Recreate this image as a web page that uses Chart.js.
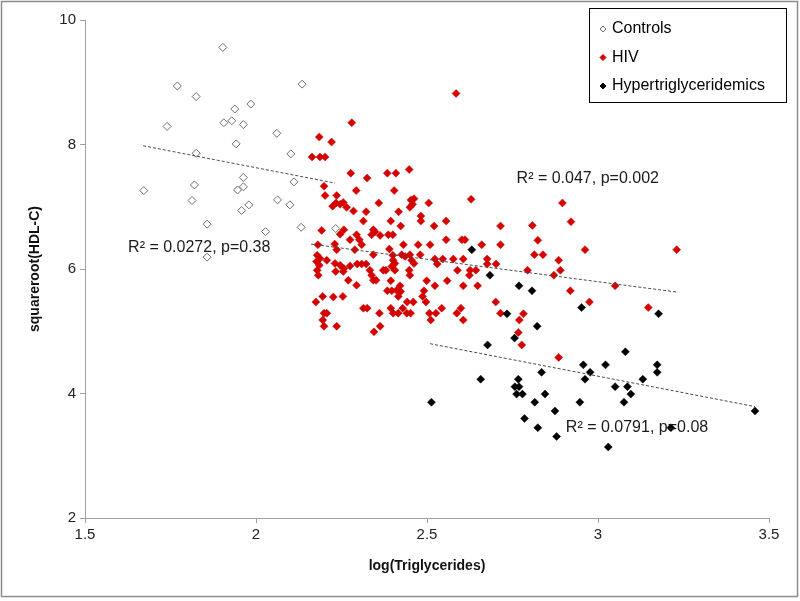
<!DOCTYPE html>
<html>
<head>
<meta charset="utf-8">
<script src="https://cdn.jsdelivr.net/npm/chart.js@4.4.1/dist/chart.umd.min.js"></script>
<style>
  html, body { margin: 0; padding: 0; background: #fff; }
  #wrap { width: 800px; height: 601px; }
</style>
</head>
<body>
<div id="wrap"><canvas id="chart" width="800" height="601"></canvas></div>
<script>

// data

const controlsX = [1.903, 1.770, 2.135, 1.825, 1.938, 1.985, 1.740, 1.906, 1.929, 1.963,
   2.061, 1.942, 1.825, 2.102, 1.963, 2.111, 1.820, 1.672, 1.946, 1.963,
   1.813, 2.063, 2.099, 1.958, 1.979, 1.857, 2.028, 2.132, 2.233, 1.857]
const controlsY = [9.56, 8.94, 8.97, 8.77, 8.57, 8.65, 8.29, 8.35, 8.38, 8.32,
   8.18, 8.01, 7.86, 7.85, 7.47, 7.40, 7.35, 7.26, 7.27, 7.32,
   7.10, 7.11, 7.03, 6.94, 7.03, 6.72, 6.60, 6.67, 6.65, 6.19]

const hivX = [2.280, 2.185, 2.221, 2.164, 2.187, 2.202, 2.277, 2.199, 2.293, 2.202,
   2.236, 2.224, 2.234, 2.246, 2.255, 2.265, 2.285, 2.192, 2.257, 2.246,
   2.275, 2.294, 2.181, 2.230, 2.236, 2.289, 2.179, 2.187, 2.177, 2.185,
   2.179, 2.182, 2.207, 2.231, 2.246, 2.257, 2.275, 2.233, 2.255, 2.270,
   2.294, 2.175, 2.195, 2.226, 2.254, 2.199, 2.207, 2.195, 2.199, 2.236,
   2.384, 2.409, 2.448, 2.325, 2.404, 2.453, 2.462, 2.450, 2.458, 2.359,
   2.505, 2.629, 2.322, 2.417, 2.482, 2.482, 2.314, 2.394, 2.556, 2.423,
   2.521, 2.715, 2.343, 2.338, 2.348, 2.302, 2.309, 2.363, 2.387, 2.400,
   2.431, 2.474, 2.509, 2.556, 2.602, 2.611, 2.660, 2.715, 2.390, 2.343,
   2.400, 2.401, 2.406, 2.397, 2.426, 2.436, 2.450, 2.455, 2.462, 2.480,
   2.523, 2.530, 2.546, 2.577, 2.606, 2.676, 2.676, 2.702, 2.296, 2.309,
   2.322, 2.372, 2.380, 2.406, 2.333, 2.338, 2.343, 2.351, 2.448, 2.450,
   2.589, 2.626, 2.643, 2.624, 2.394, 2.499, 2.559, 2.421, 2.411, 2.423,
   2.523, 2.606, 2.648, 2.384, 2.397, 2.491, 2.487, 2.497, 2.416, 2.314,
   2.325, 2.442, 2.460, 2.394, 2.401, 2.416, 2.429, 2.441, 2.452, 2.507,
   2.511, 2.526, 2.543, 2.587, 2.599, 2.606, 2.701, 2.715, 2.361, 2.363,
   2.345, 2.896, 2.921, 2.808, 2.824, 2.962, 3.230, 2.814, 2.839, 2.885,
   2.794, 2.890, 2.871, 3.050, 2.919, 2.975, 3.147, 2.782, 2.770, 2.767,
   2.777, 2.885, 2.585]
const hivY = [8.35, 8.12, 8.04, 7.80, 7.80, 7.80, 7.54, 7.33, 7.26, 7.18,
   7.18, 7.01, 7.06, 7.04, 7.07, 6.99, 6.93, 6.62, 6.63, 6.56,
   6.47, 6.55, 6.39, 6.40, 6.31, 6.31, 6.22, 6.17, 6.12, 6.06,
   5.98, 5.90, 6.14, 6.09, 6.06, 6.01, 6.05, 5.96, 5.96, 5.82,
   5.74, 5.47, 5.56, 5.55, 5.56, 5.29, 5.29, 5.18, 5.08, 5.08,
   7.54, 7.54, 7.60, 7.46, 7.26, 7.11, 7.13, 6.99, 7.04, 7.06,
   7.06, 7.12, 6.92, 6.92, 6.85, 6.77, 6.77, 6.77, 6.77, 6.69,
   6.69, 6.69, 6.63, 6.55, 6.60, 6.47, 6.39, 6.54, 6.55, 6.55,
   6.39, 6.39, 6.39, 6.47, 6.47, 6.47, 6.39, 6.39, 6.32, 6.23,
   6.22, 6.14, 6.09, 6.04, 6.23, 6.20, 6.23, 6.14, 6.09, 6.23,
   6.16, 6.08, 6.16, 6.16, 6.16, 6.16, 6.08, 6.08, 6.08, 6.08,
   6.08, 5.98, 5.98, 5.98, 5.98, 5.90, 5.82, 5.82, 5.98, 5.90,
   5.98, 5.98, 5.98, 5.90, 5.81, 5.81, 5.81, 5.73, 5.66, 5.64,
   5.73, 5.73, 5.73, 5.65, 5.65, 5.65, 5.56, 5.47, 5.56, 5.37,
   5.37, 5.47, 5.47, 5.37, 5.29, 5.29, 5.37, 5.29, 5.29, 5.29,
   5.18, 5.29, 5.37, 5.29, 5.37, 5.18, 5.47, 5.29, 5.29, 5.08,
   4.99, 7.06, 6.76, 6.70, 6.46, 6.31, 6.31, 6.23, 6.23, 6.14,
   5.98, 5.98, 5.90, 5.73, 5.65, 5.47, 5.38, 5.28, 5.18, 4.98,
   4.78, 4.58, 8.82]

const hyperX = [2.631, 2.684, 2.769, 2.807, 2.734, 2.952, 3.177, 2.822, 2.756, 2.677,
   3.080, 2.957, 3.022, 3.173, 3.173, 2.835, 2.977, 2.962, 2.657, 2.767,
   2.757, 2.769, 2.762, 2.779, 2.845, 3.050, 3.086, 3.096, 3.131, 2.513,
   2.815, 2.947, 3.076, 2.874, 3.459, 2.785, 2.824, 2.879, 3.030, 3.213]
const hyperY = [6.31, 5.90, 5.73, 5.65, 5.28, 5.38, 5.28, 5.08, 4.89, 4.78,
   4.67, 4.46, 4.46, 4.46, 4.34, 4.34, 4.34, 4.23, 4.23, 4.23,
   4.11, 4.11, 3.99, 3.99, 3.99, 4.11, 4.11, 3.99, 4.23, 3.86,
   3.86, 3.86, 3.86, 3.72, 3.72, 3.60, 3.45, 3.31, 3.14, 3.45]

// trend lines (end points)
const controlsFitX = [1.670, 2.231]
const controlsFitY = [7.98, 7.38]
const hivFitX = [2.161, 3.230]
const hivFitY = [6.40, 5.63]
const hyperFitX = [2.509, 3.459]
const hyperFitY = [4.80, 3.79]

// r2 notes: text, x, y
const noteText = ['R\u00B2 = 0.0272, p=0.38', 'R\u00B2 = 0.047, p=0.002', 'R\u00B2 = 0.0791, p=0.08']
const noteX = [1.626, 2.762, 2.906]
const noteY = [6.34, 7.45, 3.45]

const xTicks = [1.5, 2, 2.5, 3, 3.5]
const yTicks = [2, 4, 6, 8, 10]


const FONT = '"Liberation Sans", Arial, sans-serif'
const toPoints = (xs, ys) => xs.map((x, i) => ({x: x, y: ys[i]}))

function diamond(ctx, x, y, r){
   ctx.beginPath()
   ctx.moveTo(x - r, y)
   ctx.lineTo(x, y - r)
   ctx.lineTo(x + r, y)
   ctx.lineTo(x, y + r)
   ctx.closePath()
}

// frame, legend box and the R2 notes
const extras = {
   id: 'extras',
   afterDraw(chart){
      const ctx = chart.ctx
      const sx = chart.scales.x
      const sy = chart.scales.y
      ctx.save()

      ctx.font = '16px ' + FONT
      ctx.fillStyle = '#1a1a1a'
      ctx.textAlign = 'left'
      ctx.textBaseline = 'middle'
      noteText.forEach((t, i) => {
         ctx.fillText(t, sx.getPixelForValue(noteX[i]), sy.getPixelForValue(noteY[i]))
      })

      // legend
      ctx.fillStyle = '#fff'
      ctx.fillRect(589, 8, 198, 95)
      ctx.strokeStyle = '#000'
      ctx.lineWidth = 1
      ctx.strokeRect(589.5, 8.5, 197, 94)
      const items = chart.data.datasets.filter(d => d.inLegend)
      items.forEach((d, i) => {
         const y = 29 + i * 28.5
         diamond(ctx, 603, y, 3)
         ctx.fillStyle = d.backgroundColor
         ctx.fill()
         ctx.strokeStyle = d.borderColor
         ctx.lineWidth = 1
         ctx.stroke()
         ctx.fillStyle = '#000'
         ctx.font = '16px ' + FONT
         ctx.fillText(d.label, 612, y)
      })

      // outer frame
      ctx.strokeStyle = '#8c8c8c'
      ctx.lineWidth = 1.5
      ctx.strokeRect(1.5, 1.5, 796, 595)
      ctx.restore()
   }
}

const fitLine = (xs, ys) => ({
   label: 'fit',
   data: toPoints(xs, ys),
   showLine: true,
   pointRadius: 0,
   borderColor: '#4a4a4a',
   borderWidth: 1,
   borderDash: [3, 2],
   order: 0
})

const chart = document.getElementById('chart').getContext('2d')

new Chart(chart, {
   type: 'scatter',
   data: {
      datasets: [
         fitLine(controlsFitX, controlsFitY),
         fitLine(hivFitX, hivFitY),
         fitLine(hyperFitX, hyperFitY),
         {
            label: 'Controls',
            inLegend: true,
            data: toPoints(controlsX, controlsY),
            pointStyle: 'rectRot',
            pointRadius: 4,
            backgroundColor: '#fff',
            borderColor: '#6e6e6e',
            borderWidth: 1,
            order: 3
         },
         {
            label: 'HIV',
            inLegend: true,
            data: toPoints(hivX, hivY),
            pointStyle: 'rectRot',
            pointRadius: 4,
            backgroundColor: '#d40000',
            borderColor: '#d40000',
            borderWidth: 0.5,
            order: 2
         },
         {
            label: 'Hypertriglyceridemics',
            inLegend: true,
            data: toPoints(hyperX, hyperY),
            pointStyle: 'rectRot',
            pointRadius: 4,
            backgroundColor: '#000',
            borderColor: '#000',
            borderWidth: 0.5,
            order: 1
         }
      ]
   },
   options: {
      responsive: false,
      animation: false,
      layout: { padding: { top: 20, right: 31, left: 0, bottom: 0 } },
      plugins: { legend: { display: false }, tooltip: { enabled: false } },
      scales: {
         x: {
            type: 'linear',
            min: xTicks[0],
            max: xTicks[xTicks.length - 1],
            afterBuildTicks: s => { s.ticks = xTicks.map(v => ({value: v})) },
            afterFit: s => { s.height = 83 },
            ticks: { color: '#222', font: { size: 15, family: FONT }, padding: 3, callback: v => String(v) },
            grid: { drawOnChartArea: false, color: '#a0a0a0', tickLength: 5 },
            border: { color: '#a0a0a0' },
            title: { display: true, text: 'log(Triglycerides)', color: '#111',
               font: { size: 14, weight: 'bold', family: FONT }, padding: { top: 0, bottom: 26 } }
         },
         y: {
            min: yTicks[0],
            max: yTicks[yTicks.length - 1],
            afterBuildTicks: s => { s.ticks = yTicks.map(v => ({value: v})) },
            afterFit: s => { s.width = 85 },
            ticks: { color: '#222', font: { size: 15, family: FONT }, padding: 4, callback: v => String(v) },
            grid: { drawOnChartArea: false, color: '#a0a0a0', tickLength: 5 },
            border: { color: '#a0a0a0' },
            title: { display: true, text: 'squareroot(HDL-C)', color: '#111',
               font: { size: 14, weight: 'bold', family: FONT }, padding: { top: 27, bottom: 0 } }
         }
      }
   },
   plugins: [extras]
})
</script>
</body>
</html>
